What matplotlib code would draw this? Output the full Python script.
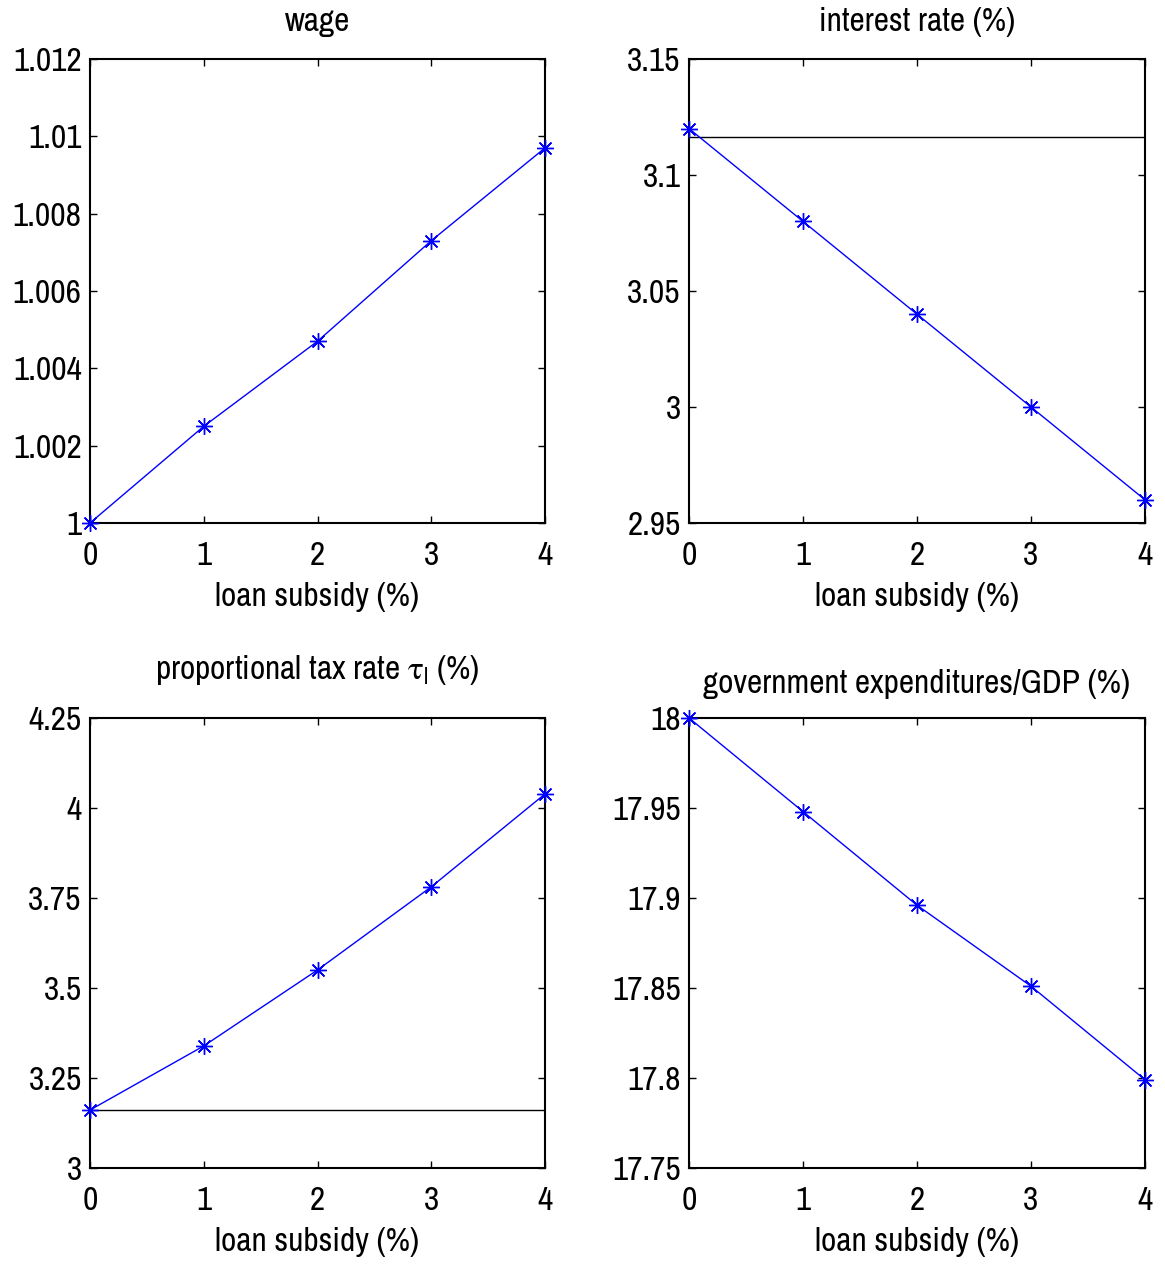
import matplotlib
matplotlib.use('Agg')
import matplotlib.pyplot as plt

plt.rcParams['font.family'] = ['Archivo Narrow', 'Liberation Sans', 'DejaVu Sans']
plt.rcParams['mathtext.fontset'] = 'custom'
plt.rcParams['mathtext.rm'] = 'Archivo Narrow'
plt.rcParams['mathtext.it'] = 'Archivo Narrow'

subsidy = [0, 1, 2, 3, 4]

wage = [1.0, 1.0025, 1.0047, 1.0073, 1.0097]
interest = [3.120, 3.080, 3.040, 3.000, 2.960]
tax_rate = [3.161, 3.339, 3.550, 3.781, 4.039]
gov_exp = [18.0, 17.948, 17.896, 17.851, 17.799]

interest_base = 3.1164
tax_base = 3.161

wage_ticks = [1.0, 1.002, 1.004, 1.006, 1.008, 1.01, 1.012]
wage_labels = ['1', '1.002', '1.004', '1.006', '1.008', '1.01', '1.012']
interest_ticks = [2.95, 3.0, 3.05, 3.1, 3.15]
interest_labels = ['2.95', '3', '3.05', '3.1', '3.15']
tax_ticks = [3.0, 3.25, 3.5, 3.75, 4.0, 4.25]
tax_labels = ['3', '3.25', '3.5', '3.75', '4', '4.25']
gov_ticks = [17.75, 17.8, 17.85, 17.9, 17.95, 18.0]
gov_labels = ['17.75', '17.8', '17.85', '17.9', '17.95', '18']

W, H = 1165, 1265
FS = 24
fig = plt.figure(figsize=(W / 100, H / 100), dpi=100)


def make_axes(x0, x1, y0, y1):
    return fig.add_axes([x0 / W, 1 - y1 / H, (x1 - x0) / W, (y1 - y0) / H])


def style(ax, yticks, ylabels, title, title_pad):
    ax.set_xlim(0, 4)
    ax.set_ylim(yticks[0], yticks[-1])
    ax.set_xticks(subsidy)
    ax.set_xticklabels([str(s) for s in subsidy])
    ax.set_yticks(yticks)
    ax.set_yticklabels(ylabels)
    ax.tick_params(direction='in', length=5, width=1, top=True, right=True,
                   labelsize=FS)
    ax.tick_params(axis='x', pad=13)
    ax.tick_params(axis='y', pad=6)
    for sp in ax.spines.values():
        sp.set_linewidth(1.5)
    ax.set_xlabel('loan subsidy (%)', fontsize=FS, labelpad=8)
    ax.set_title(title, fontsize=FS, pad=title_pad)


def series(ax, y):
    ax.plot(subsidy, y, color='blue', linewidth=1.0, marker=(8, 2, 0),
            markersize=12, markeredgewidth=1.0, clip_on=False, zorder=3)


ax1 = make_axes(90, 545, 59, 523)
series(ax1, wage)
style(ax1, wage_ticks, wage_labels, 'wage', 20)

ax2 = make_axes(689, 1145, 59, 523)
ax2.axhline(interest_base, color='black', linewidth=1.0)
series(ax2, interest)
style(ax2, interest_ticks, interest_labels, 'interest rate (%)', 20)

ax3 = make_axes(90, 545, 718, 1168)
ax3.axhline(tax_base, color='black', linewidth=1.0)
series(ax3, tax_rate)
style(ax3, tax_ticks, tax_labels,
      'proportional tax rate $\\mathregular{\\tau_l}$ (%)', 28)

ax4 = make_axes(689, 1145, 718, 1168)
series(ax4, gov_exp)
style(ax4, gov_ticks, gov_labels, 'government expenditures/GDP (%)', 18)

fig.savefig('out.png', dpi=100)
